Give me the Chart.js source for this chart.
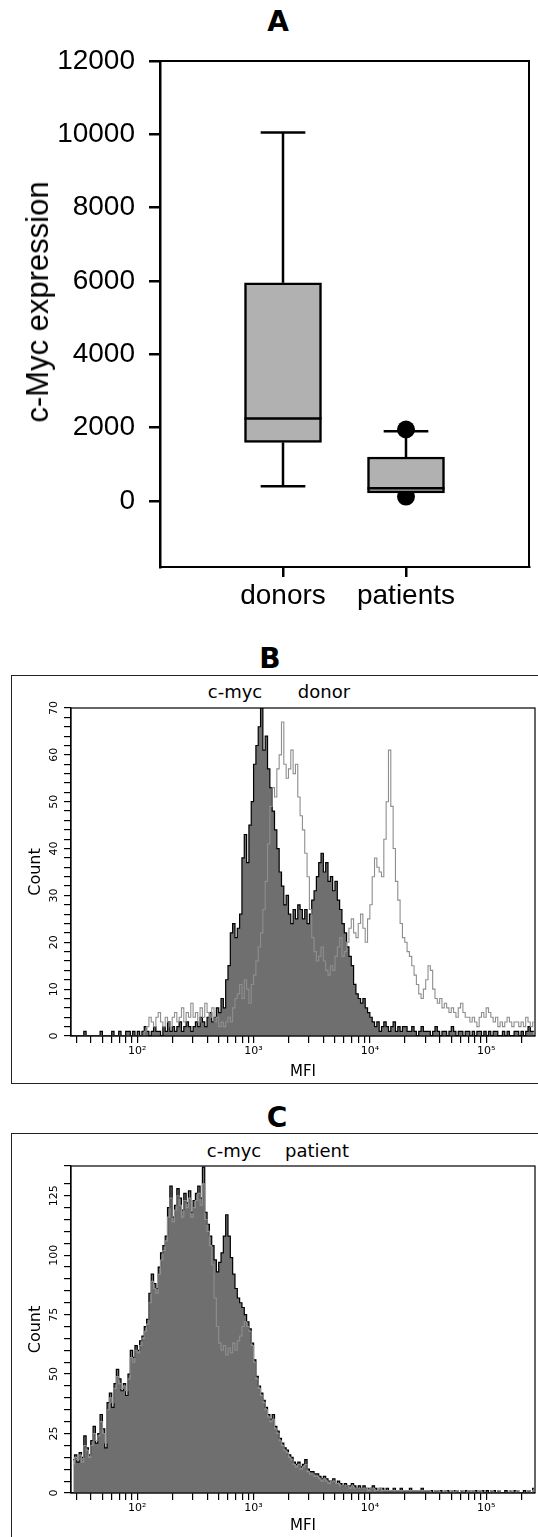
<!DOCTYPE html>
<html>
<head>
<meta charset="utf-8">
<title>c-Myc expression</title>
<script src="https://cdn.jsdelivr.net/npm/chart.js@4.4.1/dist/chart.umd.min.js"></script>
<style>
  html, body { margin: 0; padding: 0; background: #fff; }
  body { position: relative; width: 538px; height: 1537px; overflow: hidden; }
  .panel { position: absolute; left: 0; width: 538px; }
  .letter { position: absolute; width: 60px; text-align: center; font: bold 28px "DejaVu Sans", sans-serif; line-height: 30px; }
  .frame { position: absolute; left: 11px; width: 600px; box-sizing: border-box; border: 1.5px solid #222; }
  .tag { position: absolute; font: 18px "DejaVu Sans", sans-serif; line-height: 20px; transform: translateX(-50%); white-space: nowrap; }
  .ytitle { position: absolute; left: 38px; top: 302px; transform: translate(-50%, -50%) rotate(-90deg); font: 31px "Liberation Sans", Arial, sans-serif; white-space: nowrap; }
</style>
</head>
<body>
<div class="letter" style="left:248px; top:7px">A</div>
<div class="panel" style="top:0; height:620px"><canvas id="chartA"></canvas></div>
<div class="ytitle">c-Myc expression</div>

<div class="letter" style="left:240px; top:644px">B</div>
<div class="frame" style="top:675px; height:409px"></div>
<div class="tag" style="left:235px; top:682px">c-myc</div>
<div class="tag" style="left:324px; top:682px">donor</div>
<div class="panel" style="top:675px; height:408px"><canvas id="chartB"></canvas></div>

<div class="letter" style="left:247px; top:1103px">C</div>
<div class="frame" style="top:1133px; height:500px"></div>
<div class="tag" style="left:234px; top:1141px">c-myc</div>
<div class="tag" style="left:317px; top:1141px">patient</div>
<div class="panel" style="top:1133px; height:404px"><canvas id="chartC"></canvas></div>

<script>
  // ---------------- panel A : box plot ----------------
  const groups = ['donors', 'patients'];
  const boxMin = [400, 220];
  const boxQ1 = [1600, 220];
  const boxMedian = [2250, 350];
  const boxQ3 = [5950, 1200];
  const boxMax = [10050, 1900];
  const outlierGroup = [2, 2];
  const outlierValue = [1950, 120];
  const yTicksA = [0, 2000, 4000, 6000, 8000, 10000, 12000];

  // ---------------- panels B / C : histograms ----------------
  // channels on a log10(MFI) grid, first channel + spacing
  const channelStartLog = 1.45;
  const channelStepLog = 0.02;

  const donorCmyc = [
    0, 0, 0, 0, 0, 1, 0, 0, 0, 0, 0, 0, 1, 0, 0, 0, 0, 1, 0, 0, 1, 0, 0, 1, 1, 0, 1, 0,
    1, 0, 1, 2, 1, 0, 1, 2, 1, 1, 0, 2, 1, 3, 1, 2, 1, 2, 3, 1, 2, 3, 2, 1, 2,
    3, 2, 4, 3, 2, 4, 5, 3, 4, 6, 5, 8, 6, 12, 15, 22, 24, 21, 23, 26, 38, 43, 37, 45, 50,
    58, 62, 66, 70, 61, 64, 57, 53, 48, 44, 40, 35, 32, 28, 30, 26, 24, 27, 25, 28, 27, 25, 27, 24, 26,
    29, 31, 34, 37, 39, 35, 37, 33, 34, 31, 33, 29, 27, 24, 22, 19, 17, 15, 11, 9, 8, 7, 8, 6, 5,
    4, 3, 2, 3, 1, 2, 3, 2, 1, 2, 3, 1, 2, 1, 2, 2, 1, 1, 2, 1, 0, 1, 2, 1, 1,
    1, 0, 1, 2, 1, 0, 1, 1, 0, 1, 2, 1, 0, 1, 1, 0, 1, 1, 0, 1, 0, 1, 1, 0, 1,
    0, 1, 0, 1, 1, 0, 0, 1, 0, 1, 0, 0, 1, 1, 0, 1, 0, 1, 2, 1, 1
  ];
  const donorOverlay = [
    0, 0, 0, 0, 0, 0, 0, 0, 0, 0, 0, 0, 0, 0, 0, 0, 0, 0, 0, 0, 0, 0, 0, 0, 0, 0, 0, 0,
    0, 0, 0, 1, 2, 4, 3, 2, 4, 5, 3, 2, 4, 3, 2, 4, 5, 3, 4, 6, 3, 5, 4, 7, 4,
    5, 3, 6, 4, 7, 5, 4, 6, 3, 4, 2, 3, 2, 3, 4, 3, 6, 8, 9, 11, 8, 12, 10, 7, 11,
    13, 16, 19, 22, 27, 33, 41, 49, 53, 51, 57, 60, 67, 58, 55, 57, 61, 56, 58, 51, 47, 44, 39, 34, 27,
    21, 18, 16, 17, 19, 16, 14, 13, 15, 14, 17, 19, 21, 17, 18, 20, 23, 25, 22, 21, 24, 26, 23, 20, 25,
    28, 34, 38, 36, 35, 34, 42, 50, 61, 49, 40, 33, 29, 24, 21, 20, 18, 17, 15, 13, 11, 9, 8, 10, 12,
    15, 14, 10, 8, 7, 8, 6, 7, 6, 5, 6, 5, 4, 6, 7, 5, 4, 4, 3, 4, 3, 2, 4, 5, 4,
    6, 5, 4, 3, 4, 2, 3, 2, 3, 4, 3, 2, 3, 3, 2, 3, 2, 4, 3, 2, 3
  ];
  const patientCmyc = [
    14, 16, 13, 17, 15, 24, 19, 16, 22, 28, 21, 25, 33, 27, 19, 38, 42, 36, 46, 52, 48, 43, 46, 41, 50, 60, 57, 62,
    60, 64, 66, 70, 73, 84, 92, 88, 86, 95, 101, 104, 108, 120, 129, 116, 121, 128, 124, 119, 126, 122, 127, 118, 123,
    126, 129, 124, 137, 118, 113, 108, 104, 98, 93, 97, 101, 108, 117, 108, 99, 92, 86, 82, 80, 78, 75, 72, 69, 63,
    56, 49, 45, 42, 39, 36, 33, 31, 33, 28, 26, 23, 21, 19, 18, 16, 15, 13, 12, 13, 11, 12, 14, 10, 9,
    9, 8, 8, 7, 6, 7, 6, 5, 5, 6, 4, 5, 4, 3, 4, 3, 3, 4, 3, 2, 3, 2, 3, 2, 2,
    2, 3, 2, 1, 2, 2, 1, 2, 1, 1, 2, 1, 1, 2, 1, 1, 1, 2, 1, 1, 1, 1, 2, 1, 1,
    1, 1, 0, 1, 1, 1, 0, 1, 1, 0, 1, 1, 1, 0, 1, 0, 1, 1, 0, 1, 1, 0, 1, 1, 0,
    1, 0, 1, 1, 0, 1, 0, 0, 1, 0, 1, 0, 1, 1, 0, 0, 1, 0, 1, 0, 2
  ];
  const patientOverlay = [
    12, 15, 14, 16, 13, 20, 18, 15, 20, 25, 22, 24, 30, 25, 21, 35, 40, 38, 44, 49, 46, 44, 45, 43, 48, 57, 55, 60,
    59, 62, 65, 68, 71, 80, 89, 86, 84, 92, 98, 102, 106, 116, 124, 114, 119, 125, 121, 116, 123, 120, 124, 116, 120,
    123, 126, 121, 130, 115, 110, 104, 96, 82, 70, 63, 60, 62, 58, 61, 59, 63, 60, 64, 66, 70, 72, 70, 68, 62,
    55, 48, 44, 41, 38, 35, 32, 30, 31, 27, 25, 22, 20, 18, 17, 15, 14, 12, 11, 12, 10, 11, 12, 9, 8,
    8, 7, 7, 6, 5, 6, 5, 4, 5, 5, 4, 4, 3, 3, 3, 3, 2, 3, 2, 2, 2, 2, 2, 2, 1,
    2, 2, 1, 1, 2, 1, 1, 1, 1, 1, 1, 1, 1, 1, 1, 1, 1, 1, 1, 1, 1, 1, 1, 1, 1,
    1, 0, 0, 1, 1, 0, 0, 1, 0, 0, 1, 0, 1, 0, 1, 0, 0, 1, 0, 1, 0, 0, 1, 0, 0,
    0, 0, 1, 0, 0, 1, 0, 0, 0, 0, 1, 0, 0, 1, 0, 0, 0, 0, 1, 0, 1
  ];
  const mfiDecades = [2, 3, 4, 5];
  const mfiDecadeLabels = ['10\u00b2', '10\u00b3', '10\u2074', '10\u2075'];
  const mfiLogRange = [1.43, 5.42];
  const countTicksB = [0, 10, 20, 30, 40, 50, 60, 70];
  const countTicksC = [0, 25, 50, 75, 100, 125];

  Chart.defaults.animation = false;
  Chart.defaults.color = '#000';
  Chart.defaults.font.family = '"Liberation Sans", Arial, sans-serif';

  // plot frame round the chart area
  const plotFrame = {
    id: 'plotFrame',
    afterDraw(chart, args, opts) {
      const a = chart.chartArea;
      const ctx = chart.ctx;
      ctx.save();
      ctx.strokeStyle = '#000';
      ctx.lineWidth = opts.width || 1;
      ctx.strokeRect(a.left, a.top, a.right - a.left, a.bottom - a.top);
      ctx.restore();
    }
  };

  // whiskers, caps and median lines, placed with the chart scales
  const boxWhiskers = {
    id: 'boxWhiskers',
    afterDatasetsDraw(chart) {
      const xs = chart.scales.x;
      const ys = chart.scales.y;
      const bars = chart.getDatasetMeta(0).data;
      const ctx = chart.ctx;
      ctx.save();
      ctx.strokeStyle = '#000';
      ctx.lineWidth = 2.5;
      const seg = function (x1, y1, x2, y2) {
        ctx.beginPath();
        ctx.moveTo(x1, y1);
        ctx.lineTo(x2, y2);
        ctx.stroke();
      };
      groups.forEach(function (g, i) {
        const cx = xs.getPixelForValue(i + 1);
        const half = bars[i].width / 2;
        const cap = half * 0.58;
        const ym = ys.getPixelForValue(boxMedian[i]);
        seg(cx - half, ym, cx + half, ym);
        if (boxMax[i] > boxQ3[i]) {
          const yt = ys.getPixelForValue(boxMax[i]);
          seg(cx, ys.getPixelForValue(boxQ3[i]), cx, yt);
          seg(cx - cap, yt, cx + cap, yt);
        }
        if (boxMin[i] < boxQ1[i]) {
          const yb = ys.getPixelForValue(boxMin[i]);
          seg(cx, ys.getPixelForValue(boxQ1[i]), cx, yb);
          seg(cx - cap, yb, cx + cap, yb);
        }
      });
      ctx.restore();
    }
  };

  // FACS style count labels, turned on their side
  const sideLabels = {
    id: 'sideLabels',
    afterDraw(chart, args, opts) {
      const s = chart.scales.y;
      const ctx = chart.ctx;
      ctx.save();
      ctx.font = '11px "DejaVu Sans", sans-serif';
      ctx.fillStyle = '#000';
      ctx.textAlign = 'center';
      ctx.textBaseline = 'middle';
      opts.values.forEach(function (v) {
        ctx.save();
        ctx.translate(s.right - opts.offset, s.getPixelForValue(v));
        ctx.rotate(-Math.PI / 2);
        ctx.fillText(String(v), 0, 0);
        ctx.restore();
      });
      ctx.restore();
    }
  };

  // ---------------- chart A ----------------
  new Chart(document.getElementById('chartA'), {
    type: 'scatter',
    data: {
      datasets: [
        {
          type: 'bar',
          data: groups.map(function (g, i) {
            return { x: i + 1, y: [boxQ1[i], boxQ3[i]] };
          }),
          backgroundColor: '#b1b1b1',
          borderColor: '#000',
          borderWidth: 2.5,
          borderSkipped: false,
          barThickness: 77,
          order: 0
        },
        {
          type: 'scatter',
          data: outlierValue.map(function (v, i) {
            return { x: outlierGroup[i], y: v };
          }),
          pointRadius: 9,
          pointBackgroundColor: '#000',
          pointBorderWidth: 0,
          order: 1
        }
      ]
    },
    options: {
      responsive: true,
      maintainAspectRatio: false,
      layout: { padding: { top: 61, right: 1, left: 0, bottom: 0 } },
      plugins: {
        legend: { display: false },
        tooltip: { enabled: false },
        plotFrame: { width: 2 }
      },
      scales: {
        x: {
          type: 'linear',
          min: 0,
          max: 3,
          offset: false,
          afterBuildTicks: function (scale) {
            scale.ticks = groups.map(function (g, i) {
              return { value: i + 1 };
            });
          },
          afterFit: function (scale) {
            scale.height = 53;
          },
          ticks: {
            autoSkip: false,
            maxRotation: 0,
            padding: 2,
            font: { size: 28 },
            callback: function (v) {
              return groups[v - 1];
            }
          },
          grid: { drawOnChartArea: false, offset: false, tickLength: 10, color: '#000', lineWidth: 2.5 },
          border: { color: '#000', width: 2 }
        },
        y: {
          min: -1800,
          max: 12000,
          afterBuildTicks: function (scale) {
            scale.ticks = yTicksA.map(function (v) {
              return { value: v };
            });
          },
          afterFit: function (scale) {
            scale.width = 160;
          },
          ticks: {
            font: { size: 28 },
            padding: 14,
            callback: function (v) {
              return String(v);
            }
          },
          grid: { drawOnChartArea: false, tickLength: 11, color: '#000', lineWidth: 2.5 },
          border: { color: '#000', width: 2.5 }
        }
      }
    },
    plugins: [plotFrame, boxWhiskers]
  });

  // ---------------- charts B and C ----------------
  function channelPoints(counts) {
    return counts.map(function (c, i) {
      return { x: channelStartLog + i * channelStepLog, y: c };
    });
  }

  function histogramChart(id, filled, overlay, yMax, yStep, labelValues, axisHeight, titlePad) {
    return new Chart(document.getElementById(id), {
      type: 'line',
      data: {
        datasets: [
          {
            data: channelPoints(overlay),
            borderColor: '#8e8e8e',
            borderWidth: 1.1,
            stepped: 'middle',
            pointRadius: 0,
            fill: false,
            order: 0
          },
          {
            data: channelPoints(filled),
            borderColor: '#000',
            borderWidth: 1.2,
            backgroundColor: '#6f6f6f',
            stepped: 'middle',
            pointRadius: 0,
            fill: 'origin',
            order: 1
          }
        ]
      },
      options: {
        responsive: true,
        maintainAspectRatio: false,
        layout: { padding: { top: 33, right: 3, left: 0, bottom: 0 } },
        plugins: {
          legend: { display: false },
          tooltip: { enabled: false },
          plotFrame: { width: 1.2 },
          sideLabels: { values: labelValues, offset: 17 }
        },
        scales: {
          x: {
            type: 'linear',
            min: mfiLogRange[0],
            max: mfiLogRange[1],
            afterBuildTicks: function (scale) {
              const t = [];
              for (let n = 1; n <= 5; n++) {
                for (let k = 1; k <= 9; k++) {
                  const v = n + Math.log10(k);
                  if (v >= scale.min && v <= scale.max) t.push({ value: v });
                }
              }
              scale.ticks = t;
            },
            afterFit: function (scale) {
              scale.height = axisHeight;
            },
            ticks: {
              autoSkip: false,
              maxRotation: 0,
              padding: 2,
              font: { family: '"DejaVu Sans", sans-serif', size: 11 },
              callback: function (v) {
                const d = mfiDecades.indexOf(v);
                return d >= 0 ? mfiDecadeLabels[d] : '';
              }
            },
            grid: { drawOnChartArea: false, tickLength: 7, color: '#000', lineWidth: 1.2 },
            border: { color: '#000', width: 1.2 },
            title: {
              display: true,
              text: 'MFI',
              font: { family: '"DejaVu Sans", sans-serif', size: 15 },
              padding: { top: 0, bottom: titlePad }
            }
          },
          y: {
            min: 0,
            max: yMax,
            ticks: { display: false, stepSize: yStep },
            afterFit: function (scale) {
              scale.width = 71;
            },
            grid: { drawOnChartArea: false, tickLength: 7, color: '#000', lineWidth: 1.2 },
            border: { color: '#000', width: 1.2 },
            title: {
              display: true,
              text: 'Count',
              font: { family: '"DejaVu Sans", sans-serif', size: 16 },
              padding: { top: 26, bottom: 0 }
            }
          }
        }
      },
      plugins: [plotFrame, sideLabels]
    });
  }

  histogramChart('chartB', donorCmyc, donorOverlay, 70, 2, countTicksB, 47, 2);
  histogramChart('chartC', patientCmyc, patientOverlay, 137.5, 5, countTicksC, 44, 2);
</script>
</body>
</html>
